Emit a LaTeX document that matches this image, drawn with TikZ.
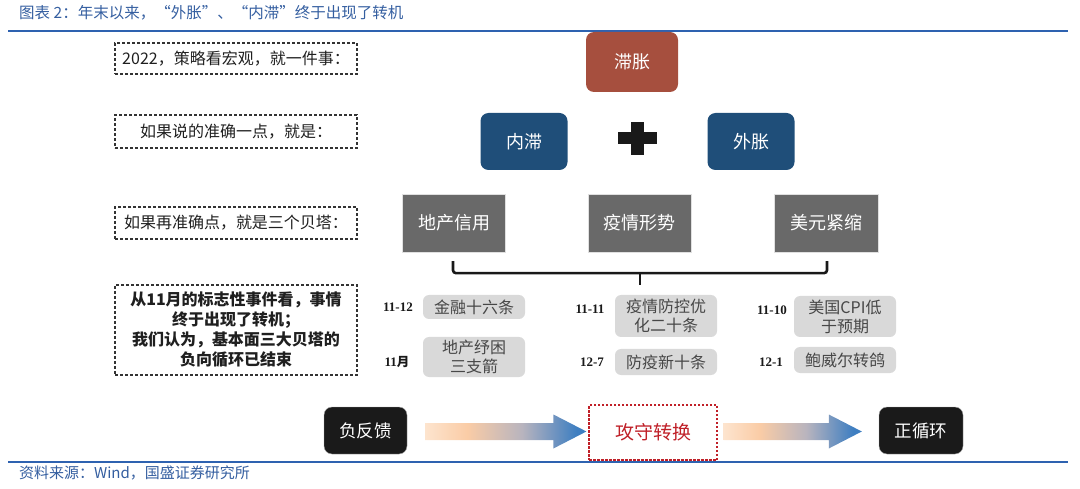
\documentclass[tikz,border=0pt]{standalone}
\usepackage{fontspec}
\setmainfont{Noto Sans CJK SC}
\newfontfamily\serifnum{Liberation Serif}
\usetikzlibrary{calc}
\definecolor{titleblue}{RGB}{52,94,160}
\definecolor{lineblue}{RGB}{46,98,176}
\definecolor{redbox}{RGB}{166,79,62}
\definecolor{navy}{RGB}{31,78,121}
\definecolor{greybox}{RGB}{105,105,105}
\definecolor{lightbox}{RGB}{217,217,217}
\definecolor{darkbox}{RGB}{26,26,26}
\definecolor{redtext}{RGB}{192,32,40}
\definecolor{peach}{RGB}{253,228,206}
\definecolor{peachmid}{RGB}{250,204,166}
\definecolor{greymid}{RGB}{184,180,190}
\definecolor{arrowblue}{RGB}{62,126,193}
\pgfdeclarehorizontalshading{arrowshade}{100bp}{color(0bp)=(peach); color(25bp)=(peach); color(38bp)=(peachmid); color(55bp)=(greymid); color(72bp)=(arrowblue); color(100bp)=(arrowblue)}
\newcommand{\gradarrow}[2]{%
  \shade[shading=arrowshade] let \p1=#1, \p2=#2 in
    (\x1,\y1-8.5pt) -- (\x2-33pt,\y1-8.5pt) -- (\x2-33pt,\y1-17pt) -- (\x2,\y1)
    -- (\x2-33pt,\y1+17pt) -- (\x2-33pt,\y1+8.5pt) -- (\x1,\y1+8.5pt) -- cycle;}
\tikzset{
  dashbox/.style={draw=black!80, dashed, dash pattern=on 3pt off 2pt, line width=1.1pt,
    minimum width=242pt, inner sep=0pt, text=black!88, align=center,
    font=\fontsize{16}{20}\selectfont},
  topbox/.style={rounded corners=8pt, text=white, inner sep=0pt,
    minimum width=87pt, minimum height=57pt, font=\fontsize{18}{20}\selectfont},
  greyb/.style={fill=greybox, draw=black!12, text=white, inner sep=0pt,
    minimum width=103pt, minimum height=58pt, font=\fontsize{18}{20}\selectfont},
  eventb/.style={fill=lightbox, rounded corners=6pt, minimum width=102pt, inner sep=0pt,
    text=black!72, align=center, font=\fontsize{16}{19}\selectfont},
  datel/.style={inner sep=0pt, text=black!90, font=\serifnum\bfseries\fontsize{13}{15}\selectfont},
  blackb/.style={fill=darkbox, rounded corners=8pt, draw=black!35, text=white, inner sep=0pt,
    minimum width=84pt, minimum height=47pt, font=\fontsize{17.5}{19}\selectfont},
  bracestyle/.style={line width=2.6pt, black!90, rounded corners=3pt},
}
\begin{document}
\begin{tikzpicture}[x=1pt,y=-1pt]
\useasboundingbox (0,0) rectangle (1080,489);
% title and rules
\node[anchor=west, inner sep=0pt, text=titleblue, font=\fontsize{15.5}{17}\selectfont] (title) at (19,13) {图表 2：年末以来，“外胀”、“内滞”终于出现了转机};
\draw[lineblue, line width=2.2pt] (8,31) -- (1068,31);
\draw[lineblue, line width=2.2pt] (8,462) -- (1068,462);
\node[anchor=west, inner sep=0pt, text=titleblue, font=\fontsize{15}{16}\selectfont] (src) at (19,473) {资料来源：Wind，国盛证券研究所};
% left dashed boxes
\node[dashbox, minimum height=31pt] (d1) at (236,58.5) {2022，策略看宏观，就一件事：};
\node[dashbox, minimum height=33pt] (d2) at (236,131.5) {如果说的准确一点，就是：};
\node[dashbox, minimum height=32pt] (d3) at (236,223) {如果再准确点，就是三个贝塔：};
\node[dashbox, minimum height=90pt, font=\bfseries\fontsize{16}{20}\selectfont] (d4) at (236,330) {从11月的标志性事件看，事情\\终于出现了转机；\\我们认为，基本面三大贝塔的\\负向循环已结束};
% top boxes
\node[topbox, fill=redbox, minimum width=92pt, minimum height=60pt] (zz) at (632,62) {滞胀};
\node[topbox, fill=navy] (nz) at (524,141.5) {内滞};
\node[topbox, fill=navy] (wz) at (751,141.5) {外胀};
\fill[black!90] (618,132) rectangle (657,144);
\fill[black!90] (631,122) rectangle (644,155);
% grey boxes
\node[greyb] (g1) at (454,223) {地产信用};
\node[greyb] (g2) at (639.5,223) {疫情形势};
\node[greyb, minimum width=104pt] (g3) at (826,223) {美元紧缩};
% brace
\draw[bracestyle] ($(g1.south)+(-1,9)$) -- ($(g1.south)+(-1,21)$) -- ($(g3.south)+(1,21)$) -- ($(g3.south)+(1,9)$);
\draw[line width=2.6pt, black!90] ($(g2.south)+(0.5,20)$) -- ($(g2.south)+(0.5,33)$);
% events
\node[eventb, minimum height=24pt] (e1) at (474,307) {金融十六条};
\node[eventb, minimum height=40pt] (e2) at (474,357) {地产纾困\\三支箭};
\node[eventb, minimum height=42pt] (e3) at (666,316) {疫情防控优\\化二十条};
\node[eventb, minimum height=26pt] (e4) at (666,362) {防疫新十条};
\node[eventb, minimum height=41pt] (e5) at (845,316.5) {美国CPI低\\于预期};
\node[eventb, minimum height=26pt] (e6) at (845,360) {鲍威尔转鸽};
\node[datel] (t1) at (398,307) {11-12};
\node[datel] (t2) at (397,362) {11{\normalfont\bfseries\fontsize{12.5}{15}\selectfont 月}};
\node[datel] (t3) at (590,309) {11-11};
\node[datel] (t4) at (592,362) {12-7};
\node[datel] (t5) at (772,310) {11-10};
\node[datel] (t6) at (771,362) {12-1};
% bottom flow
\node[blackb, minimum width=83pt] (fb) at (365.5,430.5) {负反馈};
\node[draw=redtext, dashed, dash pattern=on 2.5pt off 1.5pt, line width=1.2pt, fill=white,
  minimum width=128pt, minimum height=55pt, inner sep=0pt, text=redtext,
  font=\fontsize{19}{21}\selectfont] (gs) at (653,432.5) {攻守转换};
\node[blackb] (zx) at (921,430.5) {正循环};
\gradarrow{($(fb.east)+(18,1)$)}{($(gs.west)+(-2,-1)$)}
\gradarrow{($(gs.east)+(6,-1)$)}{($(zx.west)+(-17,1)$)}
\end{tikzpicture}
\end{document}
